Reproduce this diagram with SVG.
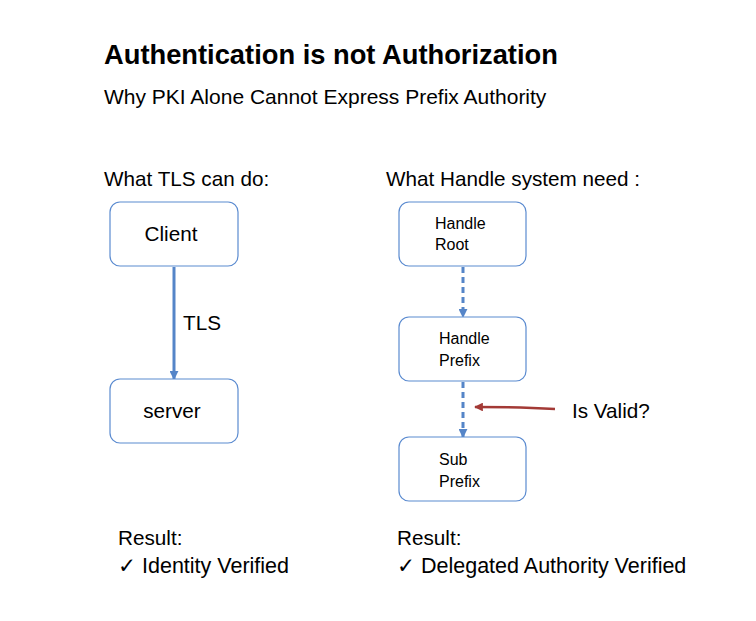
<svg xmlns="http://www.w3.org/2000/svg" width="756" height="621" viewBox="0 0 756 621">
<defs>
<style>
text{font-family:"Liberation Sans","DejaVu Sans",sans-serif;fill:#000}
.box{fill:#fff;stroke:#5b8bd0;stroke-width:1.2}
.blue{stroke:#5585c8;stroke-width:3;fill:none}
.dash{stroke-dasharray:6,4}
.l{font-size:20.7px}
.s{font-size:16px}
.r{font-size:21.5px}
</style>
<marker id="ab" viewBox="0 0 10 10" refX="9" refY="5" markerWidth="3" markerHeight="3" orient="auto"><path d="M0,0L10,5L0,10z" fill="#5585c8"/></marker>
<marker id="ar" viewBox="0 0 10 10" refX="9" refY="5" markerWidth="3.5" markerHeight="3.5" orient="auto"><path d="M0,0L10,5L0,10z" fill="#a33a36"/></marker>
</defs>
<rect width="756" height="621" fill="#fff"/>
<text x="104" y="64" font-size="27.3" font-weight="bold">Authentication is not Authorization</text>
<text x="104" y="104" font-size="21">Why PKI Alone Cannot Express Prefix Authority</text>
<text x="104" y="186" class="l">What TLS can do:</text>
<text x="386" y="186" class="l">What Handle system need :</text>
<g id="connectors">
<line class="blue" x1="174" y1="267" x2="174" y2="379" marker-end="url(#ab)"/>
<line class="blue dash" x1="463" y1="267" x2="463" y2="317" marker-end="url(#ab)"/>
<line class="blue dash" x1="463" y1="382" x2="463" y2="437" marker-end="url(#ab)"/>
<path d="M555,409 Q520,407 475,407" stroke="#a33a36" stroke-width="2.5" fill="none" marker-end="url(#ar)"/>
<text x="183" y="330" class="l">TLS</text>
<text x="572" y="418" class="l">Is Valid?</text>
</g>
<g id="client"><rect class="box" x="110" y="202" width="128" height="64" rx="10"/><text x="171" y="241" class="l" text-anchor="middle">Client</text></g>
<g id="server"><rect class="box" x="110" y="379" width="128" height="64" rx="10"/><text x="172" y="418" class="l" text-anchor="middle">server</text></g>
<g id="handle-root"><rect class="box" x="399" y="202" width="127" height="64" rx="10"/><text x="435" y="229" class="s">Handle</text><text x="435" y="250" class="s">Root</text></g>
<g id="handle-prefix"><rect class="box" x="399" y="317" width="127" height="64" rx="10"/><text x="439" y="344" class="s">Handle</text><text x="439" y="366" class="s">Prefix</text></g>
<g id="sub-prefix"><rect class="box" x="399" y="437" width="127" height="64" rx="10"/><text x="439" y="465" class="s">Sub</text><text x="439" y="487" class="s">Prefix</text></g>
<text x="118" y="545" class="l">Result:</text>
<text x="118" y="573" class="r">✓ Identity Verified</text>
<text x="397" y="545" class="l">Result:</text>
<text x="397" y="573" class="r">✓ Delegated Authority Verified</text>
</svg>
